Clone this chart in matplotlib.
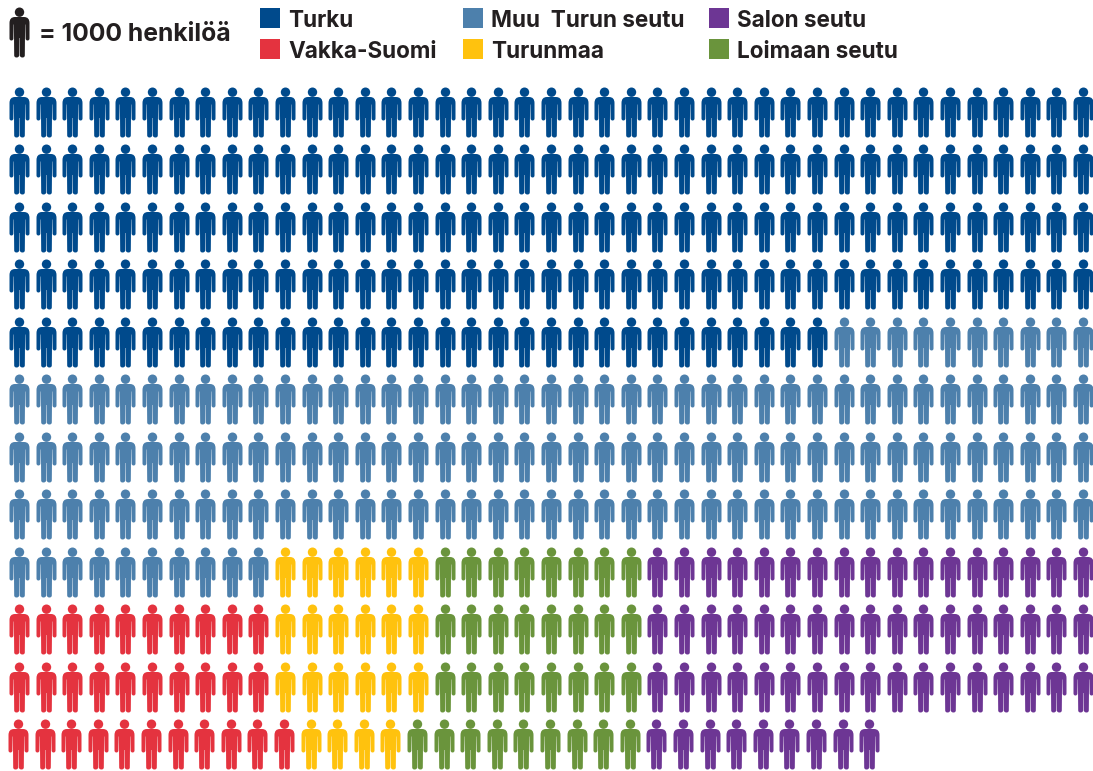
import numpy as np
import matplotlib.pyplot as plt
from matplotlib.path import Path
from matplotlib.patches import Rectangle

plt.rcParams['font.family'] = ['Inter', 'DejaVu Sans']

# ihmisiä per rivi, vasemmalta oikealle
turku = [41, 41, 41, 41, 31, 0, 0, 0, 0, 0, 0, 0]
muu_turun_seutu = [0, 0, 0, 0, 10, 41, 41, 41, 10, 0, 0, 0]
vakka_suomi = [0, 0, 0, 0, 0, 0, 0, 0, 0, 10, 10, 11]
turunmaa = [0, 0, 0, 0, 0, 0, 0, 0, 6, 6, 6, 4]
loimaan_seutu = [0, 0, 0, 0, 0, 0, 0, 0, 8, 8, 8, 9]
salon_seutu = [0, 0, 0, 0, 0, 0, 0, 0, 17, 17, 17, 9]

key_text = '= 1000 henkilöä'
legend_labels = ['Turku', 'Vakka-Suomi', 'Muu  Turun seutu', 'Turunmaa', 'Salon seutu', 'Loimaan seutu']

series = [turku, muu_turun_seutu, vakka_suomi, turunmaa, loimaan_seutu, salon_seutu]
series_colors = ['#004a8c', '#4d80ac', '#e4333f', '#ffc20e', '#6a943c', '#6d3694']
legend_colors = ['#004a8c', '#e4333f', '#4d80ac', '#ffc20e', '#6d3694', '#6a943c']
legend_x = [260, 260, 463, 463, 709, 709]
legend_y = [8, 39, 8, 39, 8, 39]


def person_path():
    # pään ympyrä + vartalo, yksikkö on pikseli, keskellä (0, 0)
    head = Path.circle((0, 20.3), 4.7)
    c3, l = Path.CURVE3, Path.LINETO
    right = [
        (l, (0, 15.5)), (l, (4.5, 15.5)), (c3, (10, 15.5)), (c3, (10, 9.5)),
        (l, (10, -6)), (c3, (10, -8)), (c3, (8.1, -8)), (c3, (6.1, -8)), (c3, (6.1, -6)),
        (l, (5.9, 8)), (l, (5.6, 8)), (l, (5.3, -23)), (c3, (5.3, -25)), (c3, (3, -25)),
        (c3, (0.5, -25)), (c3, (0.3, -23)), (l, (0.2, -5.5)), (l, (0, -5.5)),
    ]
    verts = [p for _, p in right]
    codes = [c for c, _ in right]
    # peilattu puoli takaperin: koodit siirtyvät yhdellä
    verts = verts + [(-x, y) for x, y in verts[-2::-1]]
    codes = codes + codes[:0:-1]
    codes[0] = Path.MOVETO
    verts.append((0, 15.5))
    codes.append(Path.CLOSEPOLY)
    body = Path(verts, codes)
    return Path.make_compound_path(head, body)


fig = plt.figure(figsize=(10.93, 7.71), dpi=100)
ax = fig.add_axes([0, 0, 1, 1])
ax.set_xlim(0, 1093)
ax.set_ylim(771, 0)
ax.axis('off')

person = person_path()
# markkerin skaalaus: 50 px korkea hahmo
size = (50 * 72 / 100) ** 2

x0, dx = 19, 26.6
y0, dy = 112, 57.45

for r in range(len(turku)):
    col = 0
    for values, color in zip(series, series_colors):
        n = values[r]
        if n:
            xs = x0 + dx * (col + np.arange(n)) - (1 if r == 11 else 0)
            ax.scatter(xs, np.full(n, y0 + dy * r), s=size, marker=person, color=color, linewidths=0)
        col += n

# selite
ax.scatter([19], [32], s=size, marker=person, color='#231f20', linewidths=0)
ax.text(39, 41, key_text, fontsize=17.8, fontweight='bold', color='#231f20', va='baseline', ha='left')

for label, color, x, y in zip(legend_labels, legend_colors, legend_x, legend_y):
    ax.add_patch(Rectangle((x, y), 20, 20, facecolor=color, edgecolor='none'))
    ax.text(x + 28, y + 19, label, fontsize=16.2, fontweight='bold', color='#231f20', va='baseline', ha='left')

fig.savefig('out.png', dpi=100)
